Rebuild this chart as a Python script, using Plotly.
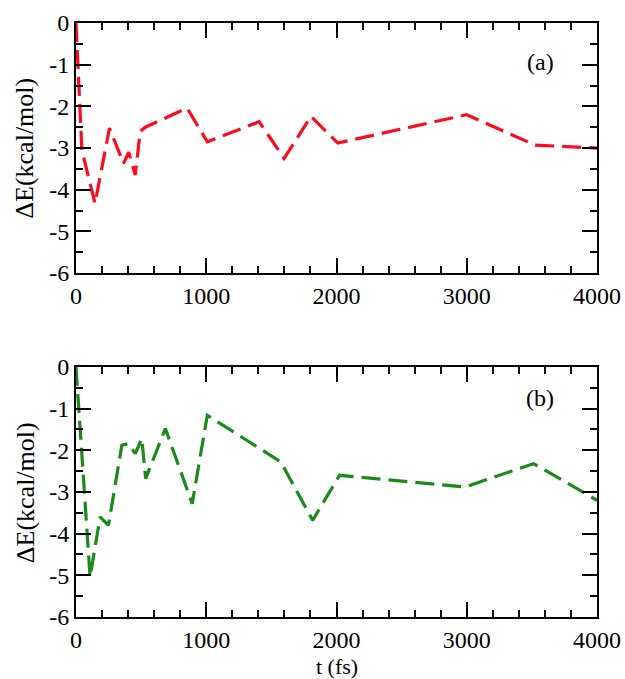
import plotly.graph_objects as go

t_a = [0, 45, 146, 257, 365, 405, 455, 493, 532, 853, 1008, 1406, 1598, 1804, 2010, 2999, 3526, 4000]
e_a = [0.0, -3.05, -4.33, -2.52, -3.37, -3.1, -3.65, -2.6, -2.5, -2.04, -2.85, -2.37, -3.25, -2.24, -2.88, -2.2, -2.93, -3.0]

t_b = [0, 108, 185, 249, 352, 403, 455, 505, 535, 686, 892, 1008, 1573, 1817, 2023, 2987, 3513, 4000]
e_b = [0.0, -5.04, -3.6, -3.8, -1.88, -1.84, -2.08, -1.72, -2.68, -1.48, -3.28, -1.16, -2.28, -3.68, -2.6, -2.88, -2.32, -3.2]

x_ticks = [0, 1000, 2000, 3000, 4000]
y_ticks = [0, -1, -2, -3, -4, -5, -6]
y_labels = ["0", "-1", "-2", "-3", "-4", "-5", "-6"]
panel_labels = ["(a)", "(b)"]
y_title = "ΔE(kcal/mol)"
x_title = "t (fs)"

FONT = "Liberation Serif"

fig = go.Figure()
fig.add_trace(go.Scatter(x=t_a, y=e_a, mode="lines", xaxis="x", yaxis="y",
                         line=dict(color="#ff0a1e", width=3.2, dash="19px,8px"), showlegend=False))
fig.add_trace(go.Scatter(x=t_b, y=e_b, mode="lines", xaxis="x2", yaxis="y2",
                         line=dict(color="#1a8a1a", width=3.2, dash="19px,8px"), showlegend=False))

xcommon = dict(range=[0, 4000], tickvals=x_ticks, ticks="inside", ticklen=15, tickwidth=1.5,
               tickcolor="black", showline=True, linecolor="black", linewidth=2, mirror="allticks",
               showgrid=False, zeroline=False, automargin=False,
               tickfont=dict(family=FONT, size=24, color="black"),
               minor=dict(dtick=200, ticks="inside", ticklen=7, tickwidth=1.5, tickcolor="black"))
ycommon = dict(range=[-6, 0], tickvals=y_ticks, ticktext=y_labels, ticks="inside", ticklen=15, tickwidth=1.5,
               tickcolor="black", showline=True, linecolor="black", linewidth=2, mirror="allticks",
               showgrid=False, zeroline=False, automargin=False,
               tickfont=dict(family=FONT, size=24, color="black"),
               minor=dict(dtick=0.5, ticks="inside", ticklen=7, tickwidth=1.5, tickcolor="black"))

tfont = dict(family=FONT, size=26, color="black")

fig.update_layout(
    width=625, height=679,
    font=dict(family=FONT, color="black"),
    margin=dict(l=76, r=28, t=23, b=62),
    paper_bgcolor="white", plot_bgcolor="white",
    xaxis=dict(domain=[0, 1], anchor="y", **xcommon),
    yaxis=dict(domain=[0.579, 1], anchor="x", **ycommon),
    xaxis2=dict(domain=[0, 1], anchor="y2", **xcommon),
    yaxis2=dict(domain=[0, 0.421], anchor="x2", **ycommon),
    annotations=[
        dict(text=panel_labels[0], x=0.921, y=0.96, xref="paper", yref="paper", showarrow=False,
             font=dict(family=FONT, size=24, color="black")),
        dict(text=panel_labels[1], x=0.921, y=0.369, xref="paper", yref="paper", showarrow=False,
             font=dict(family=FONT, size=24, color="black")),
        dict(text=y_title, x=-0.098, y=0.79, xref="paper", yref="paper", showarrow=False,
             textangle=-90, xanchor="center", yanchor="middle", font=tfont),
        dict(text=y_title, x=-0.098, y=0.21, xref="paper", yref="paper", showarrow=False,
             textangle=-90, xanchor="center", yanchor="middle", font=tfont),
        dict(text=x_title, x=0.5, y=-0.0825, xref="paper", yref="paper", showarrow=False,
             xanchor="center", yanchor="middle", font=dict(family=FONT, size=22, color="black")),
    ],
)

fig.write_html("out.html", config={"displayModeBar": False},
               post_script="document.body.style.margin='0';document.body.style.overflow='hidden';")
